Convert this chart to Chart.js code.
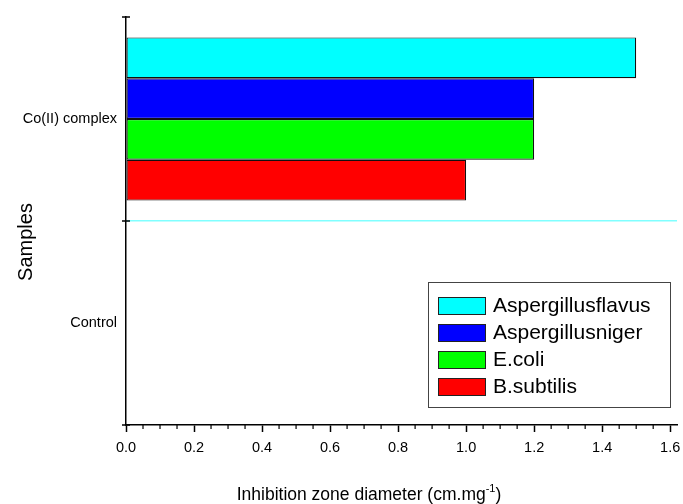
<!DOCTYPE html>
<html>
<head>
<meta charset="utf-8">
<script src="https://cdn.jsdelivr.net/npm/chart.js@4"></script>
<style>
  html, body { margin: 0; padding: 0; background: #fff; }
  #wrap { width: 683px; height: 504px; }
</style>
</head>
<body>
<div id="wrap"><canvas id="myChart" width="683" height="504"></canvas></div>
<script>
// data
const categories = ['Co(II) complex', 'Control'];
const seriesNames = ['Aspergillusflavus', 'Aspergillusniger', 'E.coli', 'B.subtilis'];
const flavus = [1.5, 0];
const niger = [1.2, 0];
const ecoli = [1.2, 0];
const subtilis = [1.0, 0];
const xTicks = [0, 0.2, 0.4, 0.6, 0.8, 1.0, 1.2, 1.4, 1.6];
const xMinorStep = 0.05;
const colors = ['#00ffff', '#0000ff', '#00ff00', '#ff0000'];

const FONT = "'Liberation Sans', Arial, sans-serif";

function ds(i, vals) {
    return {
        label: seriesNames[i],
        data: vals,
        backgroundColor: colors[i],
        borderColor: '#111',
        borderWidth: (c) => c.raw === 0 ? 0 : 1.2,
        borderSkipped: false,
        categoryPercentage: 0.8,
        barPercentage: 1.0
    };
}

// ticks, titles and the boxed legend
const extras = {
    id: 'extras',
    afterDraw(chart) {
        const ctx = chart.ctx, a = chart.chartArea;
        const xs = chart.scales.x, ys = chart.scales.y;
        ctx.save();
        ctx.strokeStyle = '#000';
        ctx.lineWidth = 1.5;
        // y ticks at the category edges, crossing the axis
        const yEdges = [];
        for (let i = 0; i <= categories.length; i++) yEdges.push(ys.getPixelForValue(i - 0.5));
        yEdges.forEach(function(y) {
            ctx.beginPath();
            ctx.moveTo(a.left - 4, y);
            ctx.lineTo(a.left + 4, y);
            ctx.stroke();
        });
        // x minor ticks
        ctx.lineWidth = 1.2;
        for (let k = 1; k * xMinorStep < xs.max; k++) {
            if (k % 4 === 0) continue;
            const x = xs.getPixelForValue(k * xMinorStep);
            ctx.beginPath();
            ctx.moveTo(x, a.bottom);
            ctx.lineTo(x, a.bottom + 4);
            ctx.stroke();
        }
        // x title with superscript
        ctx.fillStyle = '#000';
        ctx.textBaseline = 'alphabetic';
        const t1 = 'Inhibition zone diameter (cm.mg', sup = '-1', t2 = ')';
        ctx.font = '17.5px ' + FONT;
        const w1 = ctx.measureText(t1).width, w3 = ctx.measureText(t2).width;
        ctx.font = '11px ' + FONT;
        const w2 = ctx.measureText(sup).width;
        let x0 = 369 - (w1 + w2 + w3) / 2;
        const base = 500;
        ctx.font = '17.5px ' + FONT;
        ctx.textAlign = 'left';
        ctx.fillText(t1, x0, base);
        ctx.font = '11px ' + FONT;
        ctx.fillText(sup, x0 + w1, base - 8);
        ctx.font = '17.5px ' + FONT;
        ctx.fillText(t2, x0 + w1 + w2, base);
        // y title
        ctx.save();
        ctx.translate(32, 242);
        ctx.rotate(-Math.PI / 2);
        ctx.font = '20px ' + FONT;
        ctx.textAlign = 'center';
        ctx.fillText('Samples', 0, 0);
        ctx.restore();
        // legend box
        ctx.lineWidth = 1;
        ctx.strokeStyle = '#444';
        ctx.fillStyle = '#fff';
        ctx.fillRect(428.5, 282.5, 242, 125);
        ctx.strokeRect(428.5, 282.5, 242, 125);
        chart.data.datasets.forEach(function(d, i) {
            const y = 297 + i * 27;
            ctx.fillStyle = d.backgroundColor;
            ctx.fillRect(438.5, y + 0.5, 47, 17);
            ctx.strokeStyle = '#222';
            ctx.strokeRect(438.5, y + 0.5, 47, 17);
            ctx.fillStyle = '#000';
            ctx.font = '21px ' + FONT;
            ctx.textAlign = 'left';
            ctx.textBaseline = 'middle';
            ctx.fillText(d.label, 493, y + 9);
        });
        ctx.restore();
    }
};

var chart = new Chart(document.getElementById('myChart').getContext('2d'), {
    type: 'bar',
    data: {
        labels: categories,
        datasets: [ds(0, flavus), ds(1, niger), ds(2, ecoli), ds(3, subtilis)]
    },
    options: {
        indexAxis: 'y',
        responsive: false,
        animation: false,
        layout: { padding: { top: 17, right: 6, left: 0, bottom: 0 } },
        plugins: { legend: { display: false }, tooltip: { enabled: false } },
        scales: {
            x: {
                type: 'linear',
                min: 0,
                max: 1.62,
                afterBuildTicks: (s) => { s.ticks = xTicks.map(v => ({ value: v })); },
                afterFit: (s) => { s.height = 79; s.paddingLeft = 0; s.paddingRight = 0; },
                grid: { drawOnChartArea: false, drawTicks: true, tickLength: 7, tickColor: '#000', tickWidth: 1.5 },
                border: { color: '#000', width: 1.5 },
                ticks: {
                    color: '#000',
                    padding: 7,
                    font: { family: FONT, size: 14.5 },
                    callback: (v) => v.toFixed(1)
                }
            },
            y: {
                type: 'category',
                offset: true,
                afterFit: (s) => { s.width = 126; s.paddingTop = 0; s.paddingBottom = 0; },
                grid: {
                    offset: true,
                    drawTicks: false,
                    color: (c) => c.index === 1 ? '#80ffff' : 'rgba(0,0,0,0)',
                    lineWidth: 1.5
                },
                border: { color: '#000', width: 1.5 },
                ticks: { color: '#000', padding: 9, font: { family: FONT, size: 14.5 } }
            }
        }
    },
    plugins: [extras]
});
</script>
</body>
</html>
